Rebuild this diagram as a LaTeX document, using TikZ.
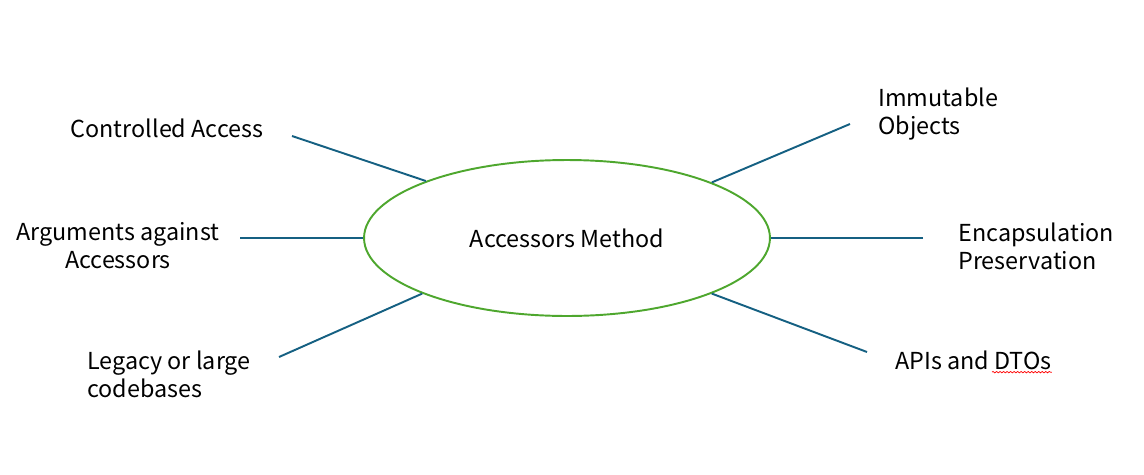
\documentclass[tikz,border=0pt]{standalone}
\usepackage{fontspec}
\setmainfont{Noto Sans CJK JP}
\usetikzlibrary{shapes.geometric,decorations.pathmorphing}
\definecolor{spokeblue}{HTML}{156082}
\definecolor{rimgreen}{HTML}{4EA72E}
\tikzset{every node/.append style={font=\fontsize{13.3}{15.9}\selectfont}}
\tikzset{
  spoke/.style={draw=spokeblue, line width=1.1pt},
  label/.style={inner sep=0pt, align=left, anchor=west},
}

\begin{document}
\begin{tikzpicture}[x=0.02cm, y=-0.02cm]
    \useasboundingbox (0,0) rectangle (1144,474);
    % centre
    \node[ellipse, draw=rimgreen, line width=1.1pt, minimum width=8.12cm, minimum height=3.12cm, inner sep=0pt] (hub) at (567,238) {Accessors Method};
    % left side
    \node[inner sep=0pt] (ctrl) at (167,128) {Controlled Access};
    \node[inner sep=0pt, align=center] (args) at (118,246) {Arguments against\\Accessors};
    \node[label] (legacy) at (87,374) {Legacy or large\\codebases};
    % right side
    \node[label] (immut) at (878,114) {Immutable\\Objects};
    \node[label] (encap) at (958,246) {Encapsulation\\Preservation};
    \node[label] (apis) at (895,360) {APIs and DTOs};
    % free ends of the spokes
    \coordinate (ctrl-end) at (292,136);
    \coordinate (args-end) at (240,238);
    \coordinate (legacy-end) at (279,357);
    \coordinate (immut-end) at (850,124);
    \coordinate (encap-end) at (923,238);
    \coordinate (apis-end) at (867,352);
    \draw[spoke] (ctrl-end) -- (hub.158.5);
    \draw[spoke] (args-end) -- (hub.180);
    \draw[spoke] (legacy-end) -- (hub.201.2);
    \draw[spoke] (immut-end) -- (hub.21);
    \draw[spoke] (encap-end) -- (hub.0);
    \draw[spoke] (apis-end) -- (hub.339);
    % spell-check squiggle under DTOs
    \coordinate (sq-a) at ([xshift=-1.2cm, yshift=-0.06cm]apis.base east);
    \coordinate (sq-b) at ([yshift=-0.06cm]apis.base east);
    \draw[red, line width=0.4pt, decorate, decoration={snake, amplitude=0.4pt, segment length=2pt}] (sq-a) -- (sq-b);
\end{tikzpicture}
\end{document}
